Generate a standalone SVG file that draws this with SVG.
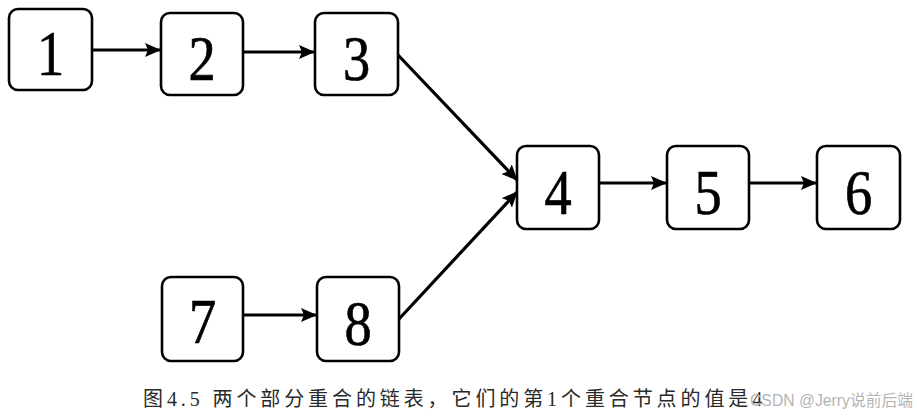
<svg xmlns="http://www.w3.org/2000/svg" width="917" height="418" viewBox="0 0 917 418">
<style>
.box{fill:#fff;stroke:#000;stroke-width:2.6}
.num{font-family:"Liberation Serif","Times New Roman",serif;font-size:64px;fill:#000;stroke:#000;stroke-width:0.7;text-anchor:middle}
.edge{stroke:#000;stroke-width:3.2;fill:none}
.cap{font-family:"Liberation Serif","Noto Sans CJK SC",serif;font-size:20px;fill:#2a2a2a;letter-spacing:3.9px}
.wm{font-family:"Liberation Sans","Noto Sans CJK SC",sans-serif;font-size:16px;fill:#b4b4b4}
</style>
<defs>
<marker id="ah" markerUnits="userSpaceOnUse" markerWidth="16" markerHeight="14" refX="15" refY="7" orient="auto">
<path d="M0,0 L16,7 L0,14 L3,7 Z" fill="#000"/>
</marker>
</defs>
<rect width="917" height="418" fill="#fff"/>
<g id="connectors">
<line class="edge" x1="92" y1="50" x2="160" y2="50" marker-end="url(#ah)"/>
<line class="edge" x1="243" y1="52" x2="314" y2="52" marker-end="url(#ah)"/>
<line class="edge" x1="398" y1="55" x2="517" y2="180" marker-end="url(#ah)"/>
<line class="edge" x1="399" y1="319" x2="517" y2="192" marker-end="url(#ah)"/>
<line class="edge" x1="599" y1="183" x2="666" y2="183" marker-end="url(#ah)"/>
<line class="edge" x1="749" y1="183" x2="816" y2="183" marker-end="url(#ah)"/>
<line class="edge" x1="243" y1="315" x2="316" y2="315" marker-end="url(#ah)"/>
</g>
<g id="n1"><rect class="box" x="9" y="9" width="83" height="81" rx="9"/><text class="num" transform="translate(50.5,75) scale(0.85,1)">1</text></g>
<g id="n2"><rect class="box" x="161" y="13" width="82" height="82" rx="9"/><text class="num" transform="translate(202,80) scale(0.85,1)">2</text></g>
<g id="n3"><rect class="box" x="315" y="13" width="83" height="82" rx="9"/><text class="num" transform="translate(356.5,80) scale(0.85,1)">3</text></g>
<g id="n4"><rect class="box" x="517" y="146" width="82" height="83" rx="9"/><text class="num" transform="translate(558,214) scale(0.85,1)">4</text></g>
<g id="n5"><rect class="box" x="667" y="146" width="82" height="83" rx="9"/><text class="num" transform="translate(708,214) scale(0.85,1)">5</text></g>
<g id="n6"><rect class="box" x="817" y="146" width="83" height="83" rx="9"/><text class="num" transform="translate(858.5,214) scale(0.85,1)">6</text></g>
<g id="n7"><rect class="box" x="162" y="277" width="81" height="84" rx="9"/><text class="num" transform="translate(202.5,343) scale(0.85,1)">7</text></g>
<g id="n8"><rect class="box" x="317" y="277" width="82" height="84" rx="9"/><text class="num" transform="translate(358,345) scale(0.85,1)">8</text></g>
<text class="cap" x="143" y="406">图4.5 两个部分重合的链表，它们的第1个重合节点的值是4</text>
<text class="wm" x="750" y="406" textLength="163" lengthAdjust="spacingAndGlyphs">CSDN @Jerry说前后端</text>
</svg>
